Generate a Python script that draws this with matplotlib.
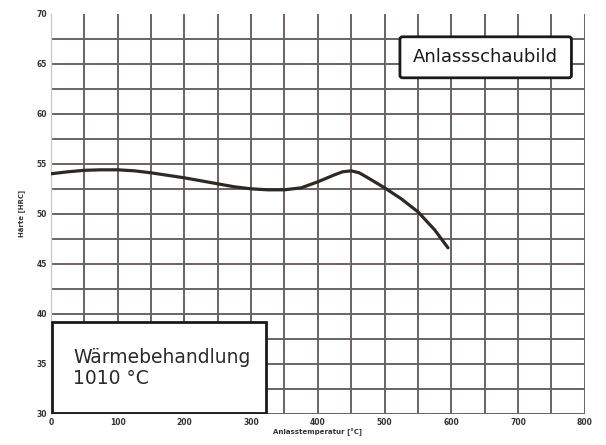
import matplotlib
matplotlib.use('Agg')
import matplotlib.pyplot as plt
from matplotlib.patches import FancyBboxPatch

# Anlasskurve, values
temp = [0, 25, 50, 75, 100, 125, 150, 175, 200, 225, 250, 275, 300, 325, 350,
        375, 400, 425, 437, 450, 462, 475, 500, 525, 550, 575, 595]
hrc = [54.0, 54.2, 54.35, 54.4, 54.4, 54.3, 54.1, 53.85, 53.6, 53.3, 53.0, 52.7,
       52.5, 52.4, 52.4, 52.6, 53.2, 53.9, 54.2, 54.3, 54.1, 53.6, 52.6, 51.5,
       50.2, 48.4, 46.6]

x_ticks = [0, 100, 200, 300, 400, 500, 600, 700, 800]
y_ticks = [30, 35, 40, 45, 50, 55, 60, 65, 70]

grid_col = '#6b6266'

fig = plt.figure(figsize=(6.06, 4.45), dpi=100)
ax = fig.add_axes([0.084, 0.070, 0.881, 0.899])

ax.set_xlim(0, 800)
ax.set_ylim(30, 70)

# grid every 50 °C and every 2.5 HRC
for gx in range(50, 801, 50):
    ax.axvline(gx, color=grid_col, lw=1.4, zorder=1)
for i in range(0, 16):
    ax.axhline(30 + 2.5 * i, color=grid_col, lw=1.4, zorder=1)

ax.plot(temp, hrc, color='#2b2a24', lw=2.3, zorder=3,
        solid_capstyle='round', solid_joinstyle='round')

ax.set_xticks(x_ticks)
ax.set_yticks(y_ticks)
ax.tick_params(length=0, labelsize=5.5, pad=3, colors='#333333')
for lbl in ax.get_xticklabels() + ax.get_yticklabels():
    lbl.set_fontweight('bold')

ax.set_xlabel('Anlasstemperatur [°C]', fontsize=5, fontweight='bold', labelpad=1, color='#333333')
ax.set_ylabel('Härte [HRC]', fontsize=5, fontweight='bold', labelpad=8, color='#333333')

for s in ['top', 'right', 'bottom']:
    ax.spines[s].set_visible(False)
ax.spines['left'].set_color('#cccccc')
ax.spines['left'].set_linewidth(1.0)

# title box top right
box1 = FancyBboxPatch((523, 63.6), 257, 4.1, boxstyle='round,pad=0,rounding_size=4',
                      fc='white', ec='#1a1a1a', lw=2, zorder=5, mutation_aspect=0.06)
ax.add_patch(box1)
ax.text(651, 65.65, 'Anlassschaubild', fontsize=13, ha='center', va='center',
        color='#1a1a1a', zorder=6)

# heat treatment box bottom left
box2 = FancyBboxPatch((2, 30.1), 320, 9.1, boxstyle='square,pad=0',
                      fc='white', ec='#1a1a1a', lw=2, zorder=5)
ax.add_patch(box2)
ax.text(33, 34.6, 'Wärmebehandlung\n1010 °C', fontsize=13.5, ha='left', va='center',
        color='#2a2a2a', linespacing=1.15, zorder=6)

fig.savefig('out.png', dpi=100)
